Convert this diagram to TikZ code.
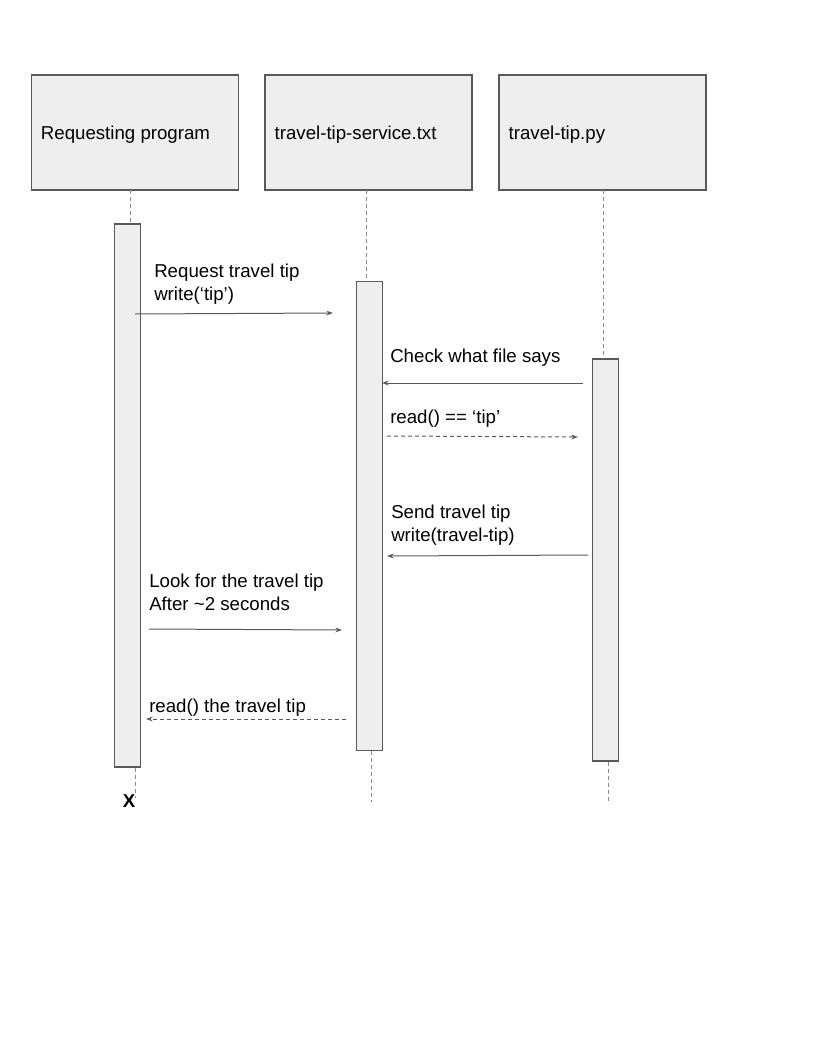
\documentclass[tikz,border=0pt]{standalone}
\usepackage{fontspec}
\setmainfont{Liberation Sans}
\usetikzlibrary{arrows.meta}
\definecolor{boxfill}{HTML}{EEEEEE}
\definecolor{edge}{HTML}{595959}
\definecolor{lifeclr}{HTML}{8A8A8A}
\begin{document}
\begin{tikzpicture}[x=0.75pt,y=-0.75pt,
  every node/.style={font=\fontsize{14}{17.25}\selectfont, text=black},
  header/.style={draw=edge, fill=boxfill, line width=0.9pt, rectangle, inner sep=0pt,
    minimum width=155.25pt, minimum height=86.25pt},
  title/.style={anchor=base west, inner sep=0pt, xshift=7.5pt, yshift=-5.6pt},
  actbox/.style={draw=edge, fill=boxfill, line width=0.9pt, rectangle, inner sep=0pt,
    minimum width=19pt},
  lifeline/.style={draw=lifeclr, line width=0.75pt, dash pattern=on 3pt off 2.25pt},
  msg/.style={draw=edge, line width=0.75pt, -{Stealth[length=5pt,width=3.6pt]}},
  reply/.style={msg, dash pattern=on 3pt off 2.25pt},
  label/.style={anchor=base west, inner sep=0pt, align=left}
]
\useasboundingbox (0,0) rectangle (816,1056);

% participants
\node[header] (h1) at (134.75,132.5) {};
\node[header] (h2) at (368.5,132.5) {};
\node[header] (h3) at (602.5,132.5) {};
\node[title] (n1) at (h1.west) {Requesting program};
\node[title] (n2) at (h2.west) {travel-tip-service.txt};
\node[title] (n3) at (h3.west) {travel-tip.py};

% activation bars
\node[actbox, minimum height=407.25pt] (a1) at (127.5,495.5) {};
\node[actbox, minimum width=19.5pt, minimum height=351.75pt] (a2) at (369.5,516) {};
\node[actbox, minimum height=301.5pt] (a3) at (605.5,560) {};

% lifeline ends
\coordinate (l1top) at (130.5,190);
\coordinate (l1bot) at (135,798);
\coordinate (l2top) at (366.8,190);
\coordinate (l2bot) at (371,802);
\coordinate (l3top) at (603.5,190);
\coordinate (l3bot) at (608,801);

\draw[lifeline] (l1top) -- (l1top |- a1.north);
\draw[lifeline] (l1bot |- a1.south) -- (l1bot);
\draw[lifeline] (l2top) -- (l2top |- a2.north);
\draw[lifeline] (l2bot |- a2.south) -- (l2bot);
\draw[lifeline] (l3top) -- (l3top |- a3.north);
\draw[lifeline] (l3bot |- a3.south) -- (l3bot);

% destruction mark
\node[anchor=base, inner sep=0pt, font=\bfseries\fontsize{14}{17}\selectfont] (end) at (129,807) {X};

% message end points
\coordinate (m1s) at (135,314);   \coordinate (m1e) at (333,313);
\coordinate (m2s) at (583,383);   \coordinate (m2e) at (382,383);
\coordinate (m3s) at (387,436);   \coordinate (m3e) at (578,437);
\coordinate (m4s) at (588,555);   \coordinate (m4e) at (387,556);
\coordinate (m5s) at (149,629);   \coordinate (m5e) at (342,630);
\coordinate (m6s) at (346,719);   \coordinate (m6e) at (146,719);

% messages
\draw[msg] (m1s) -- (m1e);
\draw[msg] (m2s) -- (m2e);
\draw[reply] (m3s) -- (m3e);
\draw[msg] (m4s) -- (m4e);
\draw[msg] (m5s) -- (m5e);
\draw[reply] (m6s) -- (m6e);

% message labels (base = last line of the label)
\node[label] (t1) at (154,300) {Request travel tip\\write(‘tip’)};
\node[label] (t2) at (390,362) {Check what file says};
\node[label] (t3) at (390,423) {read() == ‘tip’};
\node[label] (t4) at (391,541) {Send travel tip\\write(travel-tip)};
\node[label] (t5) at (149,610) {Look for the travel tip\\After \textasciitilde 2 seconds};
\node[label] (t6) at (149,712) {read() the travel tip};
\end{tikzpicture}
\end{document}
